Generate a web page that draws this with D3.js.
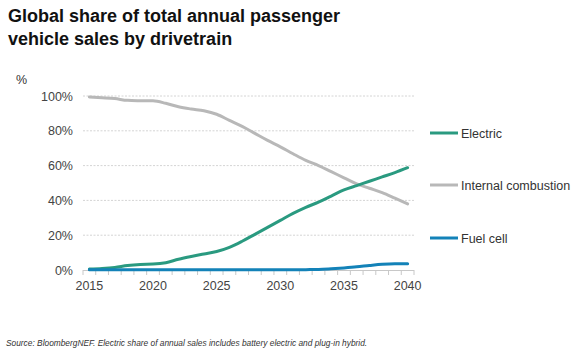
<!DOCTYPE html>
<html><head><meta charset="utf-8">
<script src="https://cdn.jsdelivr.net/npm/d3@7"></script>
<style>
body{margin:0;background:#fff;}
text{font-family:"Liberation Sans",Arial,Helvetica,sans-serif;}
</style></head>
<body><svg id="c" width="586" height="355"></svg>
<script>
const years = d3.range(2015, 2041);
const electric = [0.6,0.9,1.5,2.6,3.2,3.4,4.2,6.2,7.8,9.2,10.6,13,16.5,20.5,24.5,28.5,32.5,36,39,42.5,46,48.5,51,53.5,56,58.8];
const ice = [99.4,99,98.5,97.5,97.3,97.2,95.8,93.8,92.5,91.5,89.5,86,82.5,78.5,74.5,70.8,66.8,63,60,56.5,53,49.5,47,44.5,41.3,38];
const fuelCell = [0.1,0.1,0.1,0.1,0.1,0.1,0.1,0.1,0.1,0.1,0.1,0.1,0.1,0.1,0.1,0.1,0.1,0.2,0.3,0.7,1.2,1.8,2.6,3.3,3.6,3.6];
const yTicks = [0,20,40,60,80,100];
const xTickYears = [2015,2020,2025,2030,2035,2040];
const seriesNames = ["Electric","Internal combustion","Fuel cell"];
const seriesColors = ["#2a9a80","#b8b8b8","#1382b8"];

const svg = d3.select("#c");
const x = d3.scaleBand().domain(years).range([83,414]);
const xc = d => x(d) + x.bandwidth()/2;
const y = d3.scaleLinear().domain([0,100]).range([270,96]);

svg.append("text").attr("x",8).attr("y",22).attr("font-size",18).attr("font-weight","bold").attr("fill","#111").text("Global share of total annual passenger");
svg.append("text").attr("x",8).attr("y",45).attr("font-size",18).attr("font-weight","bold").attr("fill","#111").text("vehicle sales by drivetrain");

svg.append("text").attr("x",16).attr("y",84).attr("font-size",12.5).attr("fill","#333").text("%");

// grid
svg.append("g").selectAll("line").data(yTicks.filter(d=>d>0)).join("line")
  .attr("x1",83).attr("x2",415).attr("y1",d=>y(d)).attr("y2",d=>y(d))
  .attr("stroke","#d4d4d4").attr("stroke-dasharray","2,1.5").attr("stroke-width",1);

// y labels
const yAxis = d3.axisLeft(y).tickValues(yTicks).tickFormat(d=>d+"%").tickSize(0).tickPadding(0);
const gy = svg.append("g").attr("transform","translate(73,0)").call(yAxis);
gy.select(".domain").remove();
gy.selectAll("text").attr("font-size",12.5).attr("fill","#444").attr("font-family","Liberation Sans, Arial, sans-serif");

// x axis
svg.append("line").attr("x1",83).attr("x2",414).attr("y1",270.5).attr("y2",270.5).attr("stroke","#c8c8c8");
const bounds = years.map(d=>x(d)).concat([414]);
svg.append("g").selectAll("line").data(bounds).join("line")
  .attr("x1",d=>d).attr("x2",d=>d).attr("y1",270).attr("y2",275).attr("stroke","#c8c8c8");
svg.append("g").selectAll("text").data(xTickYears).join("text")
  .attr("x",d=>xc(d)).attr("y",290).attr("text-anchor","middle").attr("font-size",12.5).attr("fill","#444").text(d=>d);

// lines
const line = d3.line().x((d,i)=>xc(years[i])).y(d=>y(d)).curve(d3.curveMonotoneX);
[ice, electric, fuelCell].forEach((s,k)=>{
  const idx = [1,0,2][k];
  svg.append("path").attr("d",line(s)).attr("fill","none").attr("stroke",seriesColors[idx]).attr("stroke-width",3).attr("stroke-linejoin","round").attr("stroke-linecap","round");
});

// legend
const legY = [133,185,238];
seriesNames.forEach((n,i)=>{
  svg.append("line").attr("x1",430).attr("x2",458).attr("y1",legY[i]).attr("y2",legY[i]).attr("stroke",seriesColors[i]).attr("stroke-width",3);
  svg.append("text").attr("x",461).attr("y",legY[i]+4.5).attr("font-size",12.5).attr("fill","#333").text(n);
});

svg.append("text").attr("x",6).attr("y",346).attr("font-size",8.35).attr("font-style","italic").attr("fill","#333")
  .text("Source: BloombergNEF. Electric share of annual sales includes battery electric and plug-in hybrid.");
</script></body></html>
